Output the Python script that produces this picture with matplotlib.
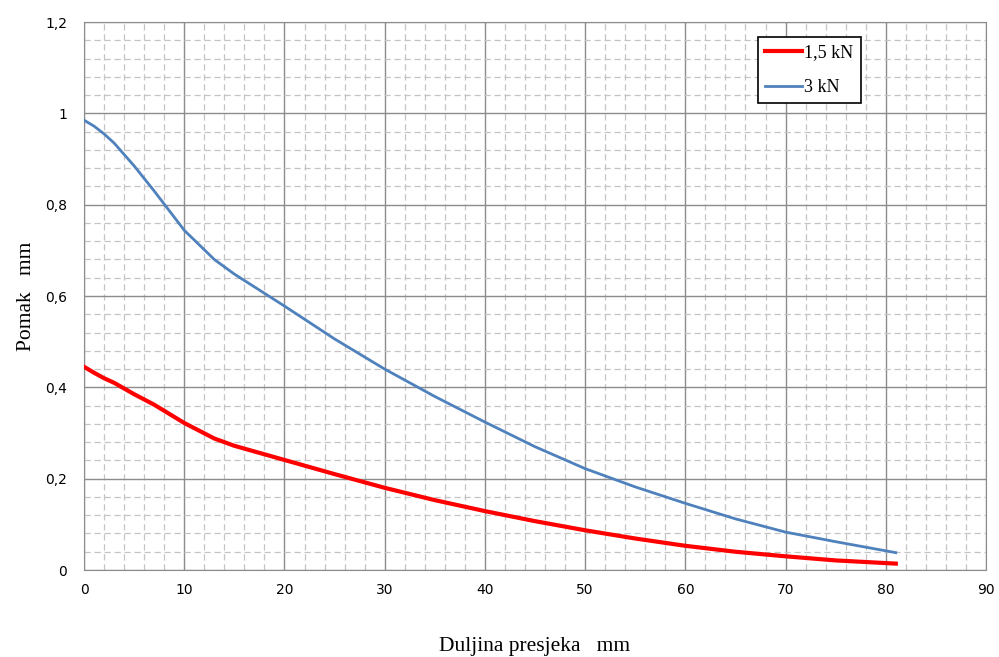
import matplotlib
matplotlib.use("Agg")
import matplotlib.pyplot as plt
from matplotlib.ticker import MultipleLocator, FuncFormatter

# data
x = [0, 1, 2, 3, 5, 7, 10, 13, 15, 20, 25, 30, 35, 40, 45, 50, 55, 60, 65, 70, 75, 81]
red = [0.445, 0.432, 0.42, 0.41, 0.385, 0.362, 0.322, 0.288, 0.272, 0.241, 0.21, 0.18, 0.153, 0.129,
       0.107, 0.087, 0.069, 0.053, 0.040, 0.030, 0.021, 0.014]
blue = [0.985, 0.972, 0.955, 0.935, 0.885, 0.83, 0.744, 0.68, 0.648, 0.578, 0.506, 0.44, 0.38, 0.324,
        0.27, 0.222, 0.182, 0.146, 0.112, 0.083, 0.062, 0.038]
labels = ["1,5 kN", "3 kN"]

fig = plt.figure(figsize=(9.99, 6.57), dpi=100)
ax = fig.add_axes([0.0841, 0.1324, 0.9029, 0.8341])

ax.plot(x, red, color="#ff0000", lw=3, label=labels[0], zorder=3)
ax.plot(x, blue, color="#4f81bd", lw=2, label=labels[1], zorder=3)

ax.set_xlim(0, 90)
ax.set_ylim(0, 1.2)
ax.xaxis.set_major_locator(MultipleLocator(10))
ax.xaxis.set_minor_locator(MultipleLocator(2))
ax.yaxis.set_major_locator(MultipleLocator(0.2))
ax.yaxis.set_minor_locator(MultipleLocator(0.04))
ax.yaxis.set_major_formatter(FuncFormatter(lambda v, p: ("%g" % round(v, 2)).replace(".", ",")))

ax.grid(which="major", color="#8c8c8c", lw=1, ls="-")
ax.grid(which="minor", color="#c4c4c4", lw=0.9, ls=(0, (5, 3)))
ax.set_axisbelow(True)
ax.tick_params(which="both", length=0)
ax.tick_params(axis="x", pad=9, labelsize=10)
ax.tick_params(axis="y", pad=12, labelsize=10)
for s in ax.spines.values():
    s.set_color("#8c8c8c")

ax.set_xlabel("Duljina presjeka   mm", family="Liberation Serif", fontsize=15.5, labelpad=29)
ax.set_ylabel("Pomak   mm", family="Liberation Serif", fontsize=15.5, labelpad=7)

leg = ax.legend(loc="upper right", bbox_to_anchor=(0.861, 0.973), prop={"family": "Liberation Serif", "size": 13},
                fancybox=False, edgecolor="black", framealpha=1, handlelength=2.0, handletextpad=0.15,
                borderpad=0.4, labelspacing=1.0, borderaxespad=0)
leg.get_frame().set_linewidth(1.2)

fig.savefig("out.png", dpi=100)
